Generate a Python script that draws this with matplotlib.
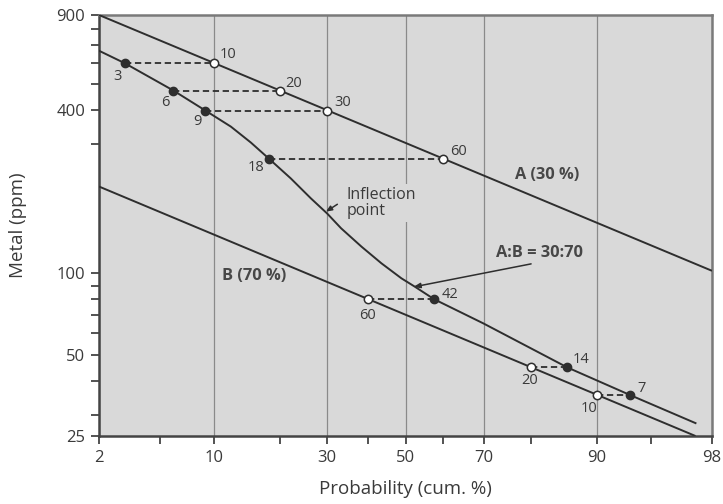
import numpy as np
import matplotlib
matplotlib.use("Agg")
import matplotlib.pyplot as plt
from matplotlib.ticker import FixedLocator, FixedFormatter, NullFormatter
from statistics import NormalDist

# ---------------- data ----------------
# Population A (30 %): straight line on probability paper
a_line_p = [2, 98]
a_line_v = [900, 102]
a_pts_p = [10, 20, 30, 60]
a_pts_v = [597, 473, 399, 265]
a_pts_lab = ["10", "20", "30", "60"]

# Population B (70 %)
b_line_p = [2, 97.4]
b_line_v = [209, 25]
b_pts_p = [40, 80, 90]
b_pts_v = [80.1, 44.8, 35.4]
b_pts_lab = ["60", "20", "10"]

# Mixture curve A:B = 30:70
mix_p = [2, 3, 6, 9, 12.1, 15.0, 18, 22.1, 26.3, 30, 33.3, 38.4, 43.6,
         48.9, 52.5, 57.6, 69.9, 86.1, 93.4, 97.4]
mix_v = [664, 597, 473, 399, 348, 304, 265, 224, 189, 166, 146.5, 125.3, 108.7,
         95.7, 89.1, 80.1, 65.2, 44.8, 35.4, 27.9]

# Mixture points linked to A points
mixA_p = [3, 6, 9, 18]
mixA_v = [597, 473, 399, 265]
mixA_lab = ["3", "6", "9", "18"]

# Mixture points linked to B points
mixB_p = [57.6, 86.1, 93.4]
mixB_v = [80.1, 44.8, 35.4]
mixB_lab = ["42", "14", "7"]

x_major = [2, 10, 30, 50, 70, 90, 98]
x_minor = [5, 20, 40, 60, 80, 95]
y_major = [25, 50, 100, 400, 900]
y_minor = [30, 40, 60, 70, 80, 90, 300, 500, 600, 700, 800]

# ---------------- probability scale ----------------
_nd = NormalDist()


def _ppf1(q):
    if not np.isfinite(q):
        return np.nan
    q = min(max(q, 1e-9), 1 - 1e-9)
    return _nd.inv_cdf(q)


def _cdf1(z):
    if not np.isfinite(z):
        return np.nan
    return _nd.cdf(z)


_vppf = np.vectorize(_ppf1, otypes=[float])
_vcdf = np.vectorize(_cdf1, otypes=[float])


def prob_fwd(p):
    p = np.asarray(p, dtype=float)
    if p.size == 0:
        return p.copy()
    return _vppf(p / 100.0)


def prob_inv(z):
    z = np.asarray(z, dtype=float)
    if z.size == 0:
        return z.copy()
    return _vcdf(z) * 100.0


# ---------------- style ----------------
plt.rcParams["font.family"] = ["Open Sans", "DejaVu Sans"]
TXT = "#3a3a3a"
LINE = "#2e2e2e"
FACE = "#d9d9d9"

fig = plt.figure(figsize=(7.23, 5.04), dpi=100)
fig.patch.set_facecolor("white")
ax = fig.add_axes([99 / 723, 1 - 436 / 504, 613 / 723, 421 / 504])
ax.set_facecolor(FACE)

ax.set_xscale("function", functions=(prob_fwd, prob_inv))
ax.set_yscale("log")
ax.set_xlim(2, 98)
ax.set_ylim(25, 900)

ax.xaxis.set_major_locator(FixedLocator(x_major))
ax.xaxis.set_major_formatter(FixedFormatter([str(v) for v in x_major]))
ax.xaxis.set_minor_locator(FixedLocator(x_minor))
ax.xaxis.set_minor_formatter(NullFormatter())
ax.yaxis.set_major_locator(FixedLocator(y_major))
ax.yaxis.set_major_formatter(FixedFormatter([str(v) for v in y_major]))
ax.yaxis.set_minor_locator(FixedLocator(y_minor))
ax.yaxis.set_minor_formatter(NullFormatter())

ax.tick_params(which="both", direction="out", length=6, width=1.3,
               color="#444444", labelsize=12, labelcolor=TXT, pad=4)
ax.grid(True, axis="x", which="major", color="#8a8a8a", linewidth=0.9, zorder=0)
ax.set_axisbelow(True)

for s in ["left", "bottom"]:
    ax.spines[s].set_color("#444444")
    ax.spines[s].set_linewidth(1.8)
for s in ["top", "right"]:
    ax.spines[s].set_color("#7a7a7a")
    ax.spines[s].set_linewidth(1.8)

# ---------------- lines ----------------
lw = 1.4
ax.plot(a_line_p, a_line_v, color=LINE, lw=lw, zorder=3, solid_capstyle="butt")
ax.plot(b_line_p, b_line_v, color=LINE, lw=lw, zorder=3, solid_capstyle="butt")
ax.plot(mix_p, mix_v, color=LINE, lw=lw, zorder=3, solid_joinstyle="round")

# dashed connectors
for p1, p2, v in zip(mixA_p, a_pts_p, a_pts_v):
    ax.plot([p1, p2], [v, v], color=LINE, lw=1.3, dashes=(3.5, 2.0), zorder=3)
for p1, p2, v in zip(b_pts_p, mixB_p, b_pts_v):
    ax.plot([p1, p2], [v, v], color=LINE, lw=1.3, dashes=(3.5, 2.0), zorder=3)

# markers
ms = 6
ax.plot(a_pts_p, a_pts_v, "o", ms=ms, mfc="white", mec=LINE, mew=1.1, zorder=5)
ax.plot(b_pts_p, b_pts_v, "o", ms=ms, mfc="white", mec=LINE, mew=1.1, zorder=5)
ax.plot(mixA_p, mixA_v, "o", ms=ms, mfc=LINE, mec=LINE, mew=1.0, zorder=5)
ax.plot(mixB_p, mixB_v, "o", ms=ms, mfc=LINE, mec=LINE, mew=1.0, zorder=5)

# point labels (offsets in pixels)
lab_fs = 10.5
a_off = [(14, 9), (14, 7), (15, 8), (15, 7)]
for p, v, t, o in zip(a_pts_p, a_pts_v, a_pts_lab, a_off):
    ax.annotate(t, (p, v), xytext=o, textcoords="offset pixels",
                ha="center", va="center", fontsize=lab_fs, color=TXT, zorder=6)
mA_off = [(-7, -13), (-8, -12), (-8, -11), (-13, -9)]
for p, v, t, o in zip(mixA_p, mixA_v, mixA_lab, mA_off):
    ax.annotate(t, (p, v), xytext=o, textcoords="offset pixels",
                ha="center", va="center", fontsize=lab_fs, color=TXT, zorder=6)
b_off = [(0, -16), (-1, -13), (-8, -13)]
for p, v, t, o in zip(b_pts_p, b_pts_v, b_pts_lab, b_off):
    ax.annotate(t, (p, v), xytext=o, textcoords="offset pixels",
                ha="center", va="center", fontsize=lab_fs, color=TXT, zorder=6)
mB_off = [(16, 5), (14, 8), (11, 7)]
for p, v, t, o in zip(mixB_p, mixB_v, mixB_lab, mB_off):
    ax.annotate(t, (p, v), xytext=o, textcoords="offset pixels",
                ha="center", va="center", fontsize=lab_fs, color=TXT, zorder=6)

# series labels
ax.text(82.9, 230, "A (30 %)", ha="center", va="center", fontsize=11.8,
        fontweight="bold", color="#474747", zorder=6)
ax.text(15.5, 97.7, "B (70 %)", ha="center", va="center", fontsize=11.8,
        fontweight="bold", color="#474747", zorder=6)
ax.text(34.6, 181.7, "Inflection\npoint", ha="left", va="center", fontsize=11.5,
        color=TXT, linespacing=1.05, zorder=6,
        bbox=dict(boxstyle="square,pad=0.15", fc=FACE, ec="none"))
ax.annotate("", xy=(29.7, 168.8), xytext=(32.4, 179.7),
            arrowprops=dict(arrowstyle="-|>,head_length=0.35,head_width=0.15",
                            color=LINE, lw=1.1, shrinkA=0, shrinkB=0), zorder=6)
ax.text(81.6, 118.8, "A:B = 30:70", ha="center", va="center", fontsize=11.8,
        fontweight="bold", color="#474747", zorder=6)
ax.annotate("", xy=(52.1, 88.9), xytext=(80.0, 108.2),
            arrowprops=dict(arrowstyle="-|>,head_length=0.4,head_width=0.15",
                            color=LINE, lw=1.1, shrinkA=0, shrinkB=0), zorder=6)

ax.set_xlabel("Probability (cum. %)", fontsize=13.5, color=TXT)
ax.set_ylabel("Metal (ppm)", fontsize=13.5, color=TXT)
ax.xaxis.set_label_coords(0.5, -0.126)
ax.xaxis.label.set_va("center")
ax.yaxis.set_label_coords(-0.132, 0.5)
ax.yaxis.label.set_va("center")

fig.savefig("out.png", dpi=100, facecolor="white")
